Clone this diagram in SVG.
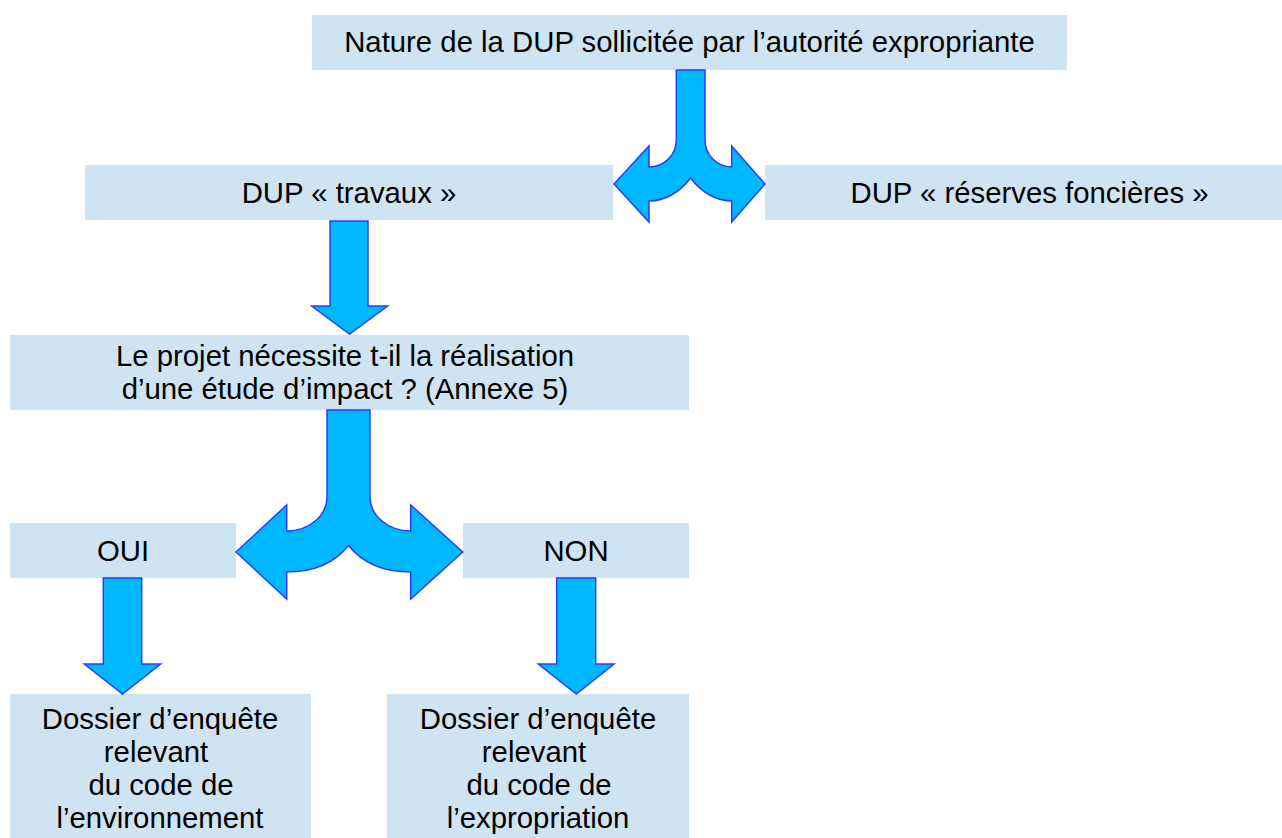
<svg xmlns="http://www.w3.org/2000/svg" width="1282" height="838" viewBox="0 0 1282 838">
<style>
.box{fill:#cfe4f2;}
.t{font-family:"Liberation Sans",Arial,sans-serif;font-size:29.33px;fill:#000;text-anchor:middle;}
.arr{fill:#00b8ff;stroke:#2a3cff;stroke-width:1.5;stroke-linejoin:miter;}
</style>
<rect width="1282" height="838" fill="#fff"/>
<g id="n-nature"><rect class="box" x="312" y="15" width="755" height="55"/><text class="t" x="689.5" y="52">Nature de la DUP sollicitée par l’autorité expropriante</text></g>
<g id="n-travaux"><rect class="box" x="85" y="165" width="528" height="55"/><text class="t" x="349" y="203">DUP « travaux »</text></g>
<g id="n-reserves"><rect class="box" x="765" y="165" width="517" height="55"/><text class="t" x="1029.5" y="203">DUP « réserves foncières »</text></g>
<g id="n-projet"><rect class="box" x="10" y="335" width="679" height="75"/><text class="t" x="345" y="366">Le projet nécessite t-il la réalisation</text><text class="t" x="345" y="399">d’une étude d’impact ? (Annexe 5)</text></g>
<g id="n-oui"><rect class="box" x="10" y="523" width="226" height="55"/><text class="t" x="123" y="561">OUI</text></g>
<g id="n-non"><rect class="box" x="463" y="523" width="226" height="55"/><text class="t" x="576" y="561">NON</text></g>
<g id="n-env"><rect class="box" x="10" y="694" width="301" height="144"/><text class="t" x="160" y="729">Dossier d’enquête</text><text class="t" x="156" y="762">relevant</text><text class="t" x="161" y="795">du code de</text><text class="t" x="160" y="828">l’environnement</text></g>
<g id="n-exp"><rect class="box" x="387" y="694" width="302" height="144"/><text class="t" x="538" y="729">Dossier d’enquête</text><text class="t" x="534" y="762">relevant</text><text class="t" x="539" y="795">du code de</text><text class="t" x="538" y="828">l’expropriation</text></g>
<g id="connectors">
<path class="arr" d="M676.3 70 L676.3 140 A27.3 27 0 0 1 649 167 L649 146 L614 184 L649 222 L649 201 C665 201 680 192 690.7 178 C701 192 716 201 731.7 201 L731.7 222 L765 184 L731.7 146 L731.7 167 A26.7 27 0 0 1 705 140 L705 70 Z"/>
<path class="arr" d="M330 221 L368 221 L368 306 L387.7 306 L349.5 334 L311.7 306 L330 306 Z"/>
<path class="arr" d="M327 410 L327 497 A40.3 34 0 0 1 286.7 531 L286.7 505 L236 552 L286.7 599 L286.7 572 C310 572 333 565 348.5 545.5 C364 565 387 572 410.7 572 L410.7 599 L462.7 552 L410.7 505 L410.7 531 A40.7 34 0 0 1 370 497 L370 410 Z"/>
<path class="arr" d="M103.3 578 L141.7 578 L141.7 664 L160.7 664 L122.5 694 L84.3 664 L103.3 664 Z"/>
<path class="arr" d="M556.7 578 L595.7 578 L595.7 664 L614 664 L576.3 694 L538.3 664 L556.7 664 Z"/>
</g>
</svg>
